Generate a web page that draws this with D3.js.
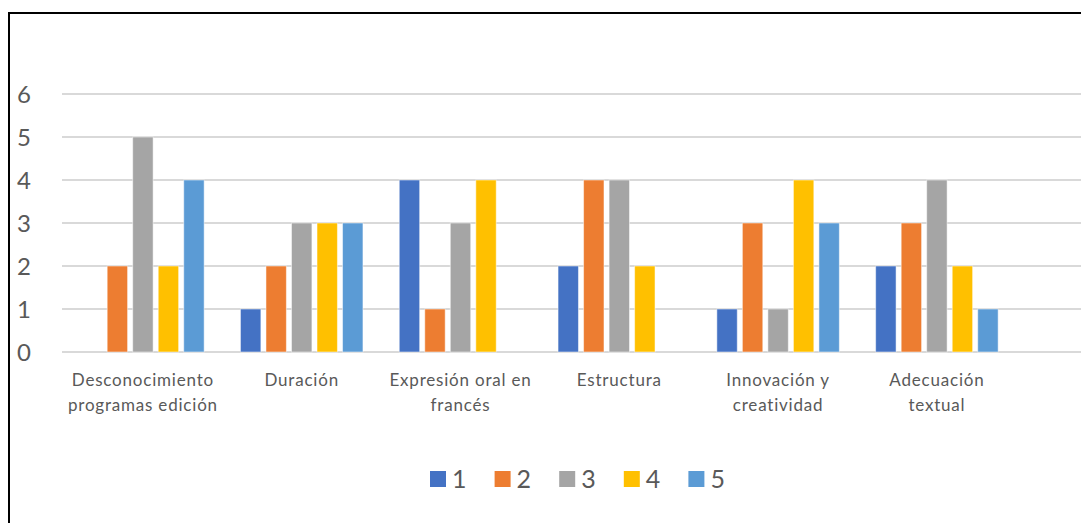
<!DOCTYPE html>
<meta charset="utf-8">
<style>
body { margin: 0; background: #fff; }
svg text { font-family: Lato, "Open Sans", sans-serif; fill: #595959; }
.grid line { stroke: #d9d9d9; stroke-width: 2; }
</style>
<body>
<div id="chart"></div>
</body>
<script src="https://d3js.org/d3.v7.min.js"></script>
<script>

var width = 1081,
    height = 523;

// data
var categories = [
  ["Desconocimiento", "programas edición"],
  ["Duración"],
  ["Expresión oral en", "francés"],
  ["Estructura"],
  ["Innovación y", "creatividad"],
  ["Adecuación", "textual"]
];
var seriesNames = ["1", "2", "3", "4", "5"];
var s1 = [0, 1, 4, 2, 1, 2];
var s2 = [2, 2, 1, 4, 3, 3];
var s3 = [5, 3, 3, 4, 1, 4];
var s4 = [2, 3, 4, 2, 4, 2];
var s5 = [4, 3, 0, 0, 3, 1];
var yTicks = [0, 1, 2, 3, 4, 5, 6];
var colors = ["#4472C4", "#ED7D31", "#A5A5A5", "#FFC000", "#5B9BD5"];

var series = [s1, s2, s3, s4, s5];

var svg = d3.select("#chart").append("svg")
    .attr("width", width)
    .attr("height", height);

// frame (only top and left edges visible in the crop)
svg.append("path")
    .attr("d", "M9,523V13H1081")
    .attr("fill", "none")
    .attr("stroke", "#000")
    .attr("stroke-width", 2);

var plotLeft = 62,
    plotRight = 1081;

var y = d3.scaleLinear()
    .domain([0, 6])
    .range([352, 94]);

var x0 = d3.scaleBand()
    .domain(d3.range(categories.length))
    .range([62.5, 62.5 + 158.8 * categories.length])
    .paddingInner(0)
    .paddingOuter(0);

var x1 = d3.scaleBand()
    .domain(d3.range(series.length))
    .range([0, 122.5])
    .paddingInner(0.2)
    .paddingOuter(0);

var groupOffset = (x0.bandwidth() - 122.5) / 2 + 1;

// gridlines
svg.append("g")
    .attr("class", "grid")
    .selectAll("line")
    .data(yTicks)
    .enter().append("line")
    .attr("x1", plotLeft)
    .attr("x2", plotRight)
    .attr("y1", function(d) { return y(d); })
    .attr("y2", function(d) { return y(d); });

// y labels
svg.append("g")
    .selectAll("text")
    .data(yTicks)
    .enter().append("text")
    .attr("x", 17)
    .attr("y", function(d) { return y(d); })
    .attr("dy", "0.36em")
    .style("font-size", "24px")
    .text(function(d) { return d; });

// bars
var groups = svg.append("g")
    .selectAll("g")
    .data(categories)
    .enter().append("g")
    .attr("transform", function(d, i) { return "translate(" + (x0(i) + groupOffset) + ",0)"; });

groups.selectAll("rect")
    .data(function(d, i) {
      return series.map(function(s, j) { return { s: j, v: s[i] }; });
    })
    .enter().append("rect")
    .filter(function(d) { return d.v > 0; })
    .attr("x", function(d) { return x1(d.s); })
    .attr("width", x1.bandwidth())
    .attr("y", function(d) { return y(d.v); })
    .attr("height", function(d) { return y(0) - y(d.v); })
    .attr("fill", function(d) { return colors[d.s]; })
    .attr("stroke", "#fff")
    .attr("stroke-opacity", 0.5)
    .attr("stroke-width", 1);

// category labels
var labels = svg.append("g")
    .selectAll("text")
    .data(categories)
    .enter().append("text")
    .attr("x", function(d, i) { return x0(i) + x0.bandwidth() / 2 + 1; })
    .attr("y", 386)
    .attr("text-anchor", "middle")
    .style("font-size", "17px")
    .style("letter-spacing", "0.8px");

labels.selectAll("tspan")
    .data(function(d) { return d; })
    .enter().append("tspan")
    .attr("x", function() { return d3.select(this.parentNode).attr("x"); })
    .attr("dy", function(d, i) { return i === 0 ? 0 : 25; })
    .text(function(d) { return d; });

// legend
var legend = svg.append("g")
    .selectAll("g")
    .data(seriesNames)
    .enter().append("g")
    .attr("transform", function(d, i) { return "translate(" + (430 + i * 64.6) + ",471)"; });

legend.append("rect")
    .attr("width", 16)
    .attr("height", 16)
    .attr("fill", function(d, i) { return colors[i]; });

legend.append("text")
    .attr("x", 22)
    .attr("y", 8)
    .attr("dy", "0.36em")
    .style("font-size", "25px")
    .text(function(d) { return d; });

</script>
